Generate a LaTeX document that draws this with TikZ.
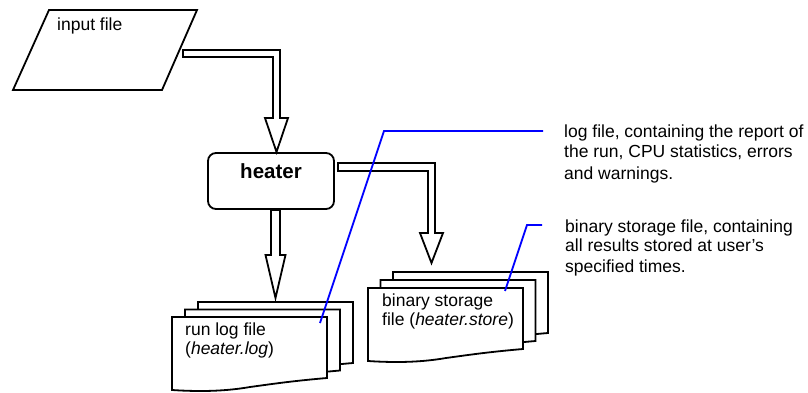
\documentclass[tikz,border=0pt]{standalone}
\usepackage{fontspec}
\setmainfont{Liberation Sans}
\usetikzlibrary{calc}

\tikzset{
  sheet/.style={draw, fill=white, line width=1.8pt, line join=miter},
  docsheet/.pic={\draw[sheet] (0,0) -- (155,0) -- (155,61)
    .. controls (120,64) and (100,67) .. (78,70)
    .. controls (55,74) and (30,75) .. (0,73) -- cycle;},
  hollow/.style={draw, fill=white, line width=1.8pt, line join=miter},
  callout/.style={draw=blue, line width=1.8pt},
  txt/.style={anchor=base west, align=left, inner sep=0pt,
    font=\fontsize{17.5}{19}\selectfont},
  procbox/.style={draw, line width=1.8pt, rounded corners=8pt,
    minimum width=126pt, minimum height=56pt, inner sep=0pt},
}

\begin{document}
\begin{tikzpicture}[x=1pt, y=-1pt, line join=miter]
\useasboundingbox (0,0) rectangle (808,393);

% input file
\coordinate (in1) at (49,10);
\coordinate (in2) at (197,10);
\coordinate (in3) at (162,90);
\coordinate (in4) at (13,90);
\draw[line width=1.8pt] (in1)--(in2)--(in3)--(in4)--cycle;
\node[txt] (intxt) at (57,31) {input file};

% heater
\node[procbox] (heater) at (271,181) {};
\node[anchor=base, inner sep=0pt, font=\fontsize{20.5}{24}\selectfont\bfseries] (heatertxt) at (271,178) {heater};

% output files (base = last line)
\coordinate (logdoc) at (172,317);
\coordinate (storedoc) at (368,288);
\foreach \k in {2,1,0} {
  \pic at ($(logdoc)+(13*\k,-7.5*\k)$) {docsheet};
  \pic at ($(storedoc)+(12.5*\k,-8*\k)$) {docsheet};
}
\node[txt] (logtxt) at (185,354) {run log file\\(\textit{heater.log})};
\node[txt] (storetxt) at (382,325) {binary storage\\file (\textit{heater.store})};

% hollow arrows
\coordinate (a1s) at (183,53.5);
\coordinate (a1k) at (276.5,53.5);
\coordinate (a1t) at (276.5,152);
\draw[hollow] ($(a1s)+(0,-3.5)$) -- ($(a1k)+(3.5,-3.5)$) -- ($(a1t)+(3.5,-34)$)
  -- ($(a1t)+(11.5,-34)$) -- (a1t) -- ($(a1t)+(-11.5,-34)$) -- ($(a1t)+(-3.5,-34)$)
  -- ($(a1k)+(-3.5,3.5)$) -- ($(a1s)+(0,3.5)$) -- cycle;

\coordinate (a2s) at (275.5,210);
\coordinate (a2t) at (275.5,298);
\draw[hollow] ($(a2s)+(-4.5,0)$) -- ($(a2t)+(-4.5,-43)$) -- ($(a2t)+(-10,-43)$)
  -- (a2t) -- ($(a2t)+(10,-43)$) -- ($(a2t)+(4.5,-43)$) -- ($(a2s)+(4.5,0)$) -- cycle;

\coordinate (a3s) at (338,167);
\coordinate (a3k) at (431.5,167);
\coordinate (a3t) at (431.5,263);
\draw[hollow] ($(a3s)+(0,-4)$) -- ($(a3k)+(3.5,-4)$) -- ($(a3t)+(3.5,-30)$)
  -- ($(a3t)+(11.5,-30)$) -- (a3t) -- ($(a3t)+(-11.5,-30)$) -- ($(a3t)+(-3.5,-30)$)
  -- ($(a3k)+(-3.5,4)$) -- ($(a3s)+(0,4)$) -- cycle;

% notes
\coordinate (logpin) at (320,323);
\coordinate (logbend) at (384,131);
\coordinate (logend) at (543,131);
\draw[callout] (logpin) -- (logbend) -- (logend);
\node[txt, font=\fontsize{17.5}{20}\selectfont] (lognote) at (564,179) {log file, containing the report of\\the run, CPU statistics, errors\\[2pt]and warnings.};

\coordinate (storepin) at (505,291);
\coordinate (storebend) at (527,225);
\coordinate (storeend) at (542,225);
\draw[callout] (storepin) -- (storebend) -- (storeend);
\node[txt, font=\fontsize{17.5}{19}\selectfont] (storenote) at (565,272) {binary storage file, containing\\all results stored at user's\\[2pt]specified times.};
\end{tikzpicture}
\end{document}
